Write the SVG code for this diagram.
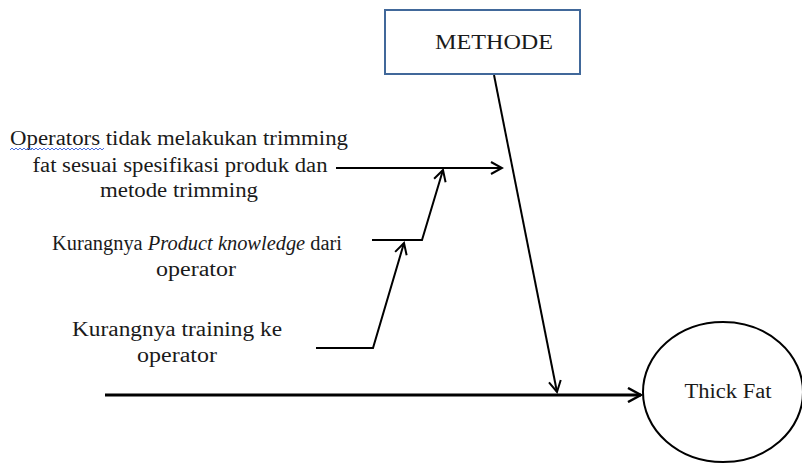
<svg xmlns="http://www.w3.org/2000/svg" width="802" height="464" viewBox="0 0 802 464">
  <style>
    text { font-family: 'Liberation Serif', 'Times New Roman', 'DejaVu Serif', serif; font-size: 20px; fill: #1a1a1a; }
    .ln { fill: none; stroke: #000; stroke-width: 2; }
    .spine { fill: none; stroke: #000; stroke-width: 3; }
  </style>
  <defs>
    <marker id="arr" viewBox="0 0 14 14" refX="12" refY="7" markerWidth="14" markerHeight="14" markerUnits="userSpaceOnUse" orient="auto">
      <path d="M1,1 L12,7 L1,13" fill="none" stroke="#000" stroke-width="2"/>
    </marker>
    <marker id="arrBig" viewBox="0 0 16 16" refX="14" refY="8" markerWidth="16" markerHeight="16" markerUnits="userSpaceOnUse" orient="auto">
      <path d="M1,1 L14,8 L1,15" fill="none" stroke="#000" stroke-width="2.5"/>
    </marker>
  </defs>

  <rect width="802" height="464" fill="#fff"/>

  <!-- connectors -->
  <g id="connectors">
    <line class="spine" x1="105" y1="395" x2="641" y2="395" marker-end="url(#arrBig)"/>
    <line class="ln" x1="494" y1="75" x2="557" y2="392" marker-end="url(#arr)"/>
    <line class="ln" x1="336" y1="168" x2="502" y2="168" marker-end="url(#arr)"/>
    <polyline class="ln" points="372,240 422,240 443,170" marker-end="url(#arr)"/>
    <polyline class="ln" points="316,348 373,348 404,243" marker-end="url(#arr)"/>
  </g>

  <!-- category box -->
  <g id="methode">
    <rect x="385" y="10" width="195" height="64" fill="#fff" stroke="#41689a" stroke-width="2"/>
    <text x="494" y="49" text-anchor="middle" textLength="118" lengthAdjust="spacingAndGlyphs">METHODE</text>
  </g>

  <!-- effect -->
  <g id="thick-fat">
    <ellipse cx="723" cy="392" rx="80" ry="70" fill="#fff" stroke="#000" stroke-width="2"/>
    <text x="728" y="398" text-anchor="middle" textLength="87" lengthAdjust="spacingAndGlyphs">Thick Fat</text>
  </g>

  <!-- causes -->
  <g id="cause-trimming">
    <text x="179" y="145" text-anchor="middle" textLength="338" lengthAdjust="spacingAndGlyphs">Operators tidak melakukan trimming</text>
    <text x="180" y="172" text-anchor="middle" textLength="295" lengthAdjust="spacingAndGlyphs">fat sesuai spesifikasi produk dan</text>
    <text x="179" y="197" text-anchor="middle" textLength="158" lengthAdjust="spacingAndGlyphs">metode trimming</text>
    <!-- spell-check squiggle -->
    <path d="M10,150 l2,-2 l2,2 l2,-2 l2,2 l2,-2 l2,2 l2,-2 l2,2 l2,-2 l2,2 l2,-2 l2,2 l2,-2 l2,2 l2,-2 l2,2 l2,-2 l2,2 l2,-2 l2,2 l2,-2 l2,2 l2,-2 l2,2 l2,-2 l2,2 l2,-2 l2,2 l2,-2 l2,2 l2,-2 l2,2 l2,-2 l2,2 l2,-2 l2,2 l2,-2 l2,2 l2,-2 l2,2 l2,-2 l2,2 l2,-2 l2,2 l2,-2 l2,2 l2,-2" fill="none" stroke="#4b6fe0" stroke-width="1"/>
  </g>

  <g id="cause-knowledge">
    <text x="197" y="250" text-anchor="middle" textLength="290" lengthAdjust="spacingAndGlyphs">Kurangnya <tspan font-style="italic">Product knowledge</tspan> dari</text>
    <text x="196" y="276" text-anchor="middle" textLength="80" lengthAdjust="spacingAndGlyphs">operator</text>
  </g>

  <g id="cause-training">
    <text x="177" y="336" text-anchor="middle" textLength="210" lengthAdjust="spacingAndGlyphs">Kurangnya training ke</text>
    <text x="177" y="362" text-anchor="middle" textLength="80" lengthAdjust="spacingAndGlyphs">operator</text>
  </g>
</svg>
